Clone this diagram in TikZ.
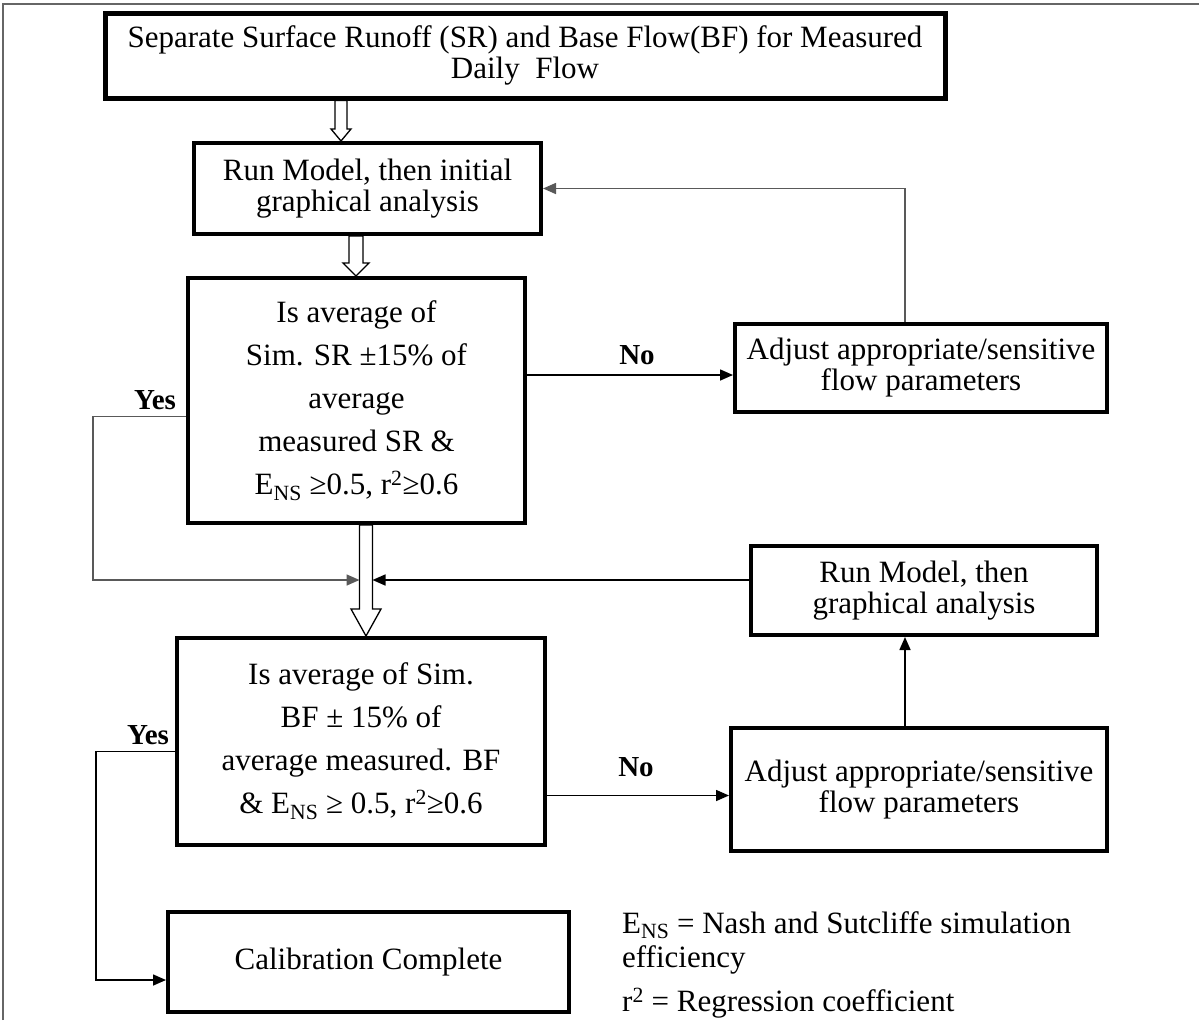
\documentclass[tikz,border=0pt]{standalone}
\usepackage{fontspec}
\setmainfont{Liberation Serif}
\usepackage{tikz}
\usetikzlibrary{positioning,calc,arrows.meta}

\newcommand{\hollowarrow}[6]{%
	\draw[hollow] let \p1=(#1 |- #2.south), \p2=(#1 |- #3.north) in
		(\x1-#4,\y1) -- (\x1+#4,\y1) -- (\x1+#4,\y2+#6) -- (\x1+#5,\y2+#6) -- (\x1,\y2) -- (\x1-#5,\y2+#6) -- (\x1-#4,\y2+#6) -- cycle;
}

\begin{document}
\begin{tikzpicture}[x=1pt,y=-1pt,
	box/.style={draw, line width=4pt, align=center, inner sep=0pt, font=\fontsize{31}{31}\selectfont},
	ask/.style={box, font=\fontsize{31}{43}\selectfont},
	link/.style={line width=1.6pt, -{Triangle[length=13pt,width=11pt]}},
	thinlink/.style={link, draw=black!65},
	hollow/.style={draw, fill=white, line width=1.3pt, line join=miter},
	answer/.style={font=\bfseries\fontsize{29}{29}\selectfont},
	note/.style={align=left, inner sep=0pt, font=\fontsize{31}{34}\selectfont},
	frame/.style={draw=black!60, line width=1.5pt}]
\useasboundingbox (0,0) rectangle (1199,1020);
\draw[frame] (3,1020) -- (3,4) -- (1199,4);

\node[box, line width=5pt, minimum width=840pt, minimum height=85pt] (sep) at (525,55.5) {Separate Surface Runoff (SR) and Base Flow(BF) for Measured\\Daily\ \ Flow};
\node[box, minimum width=347pt, minimum height=91pt] (box2) at (367.5,188.5) {Run Model, then initial\\graphical analysis};
\node[ask, minimum width=337pt, minimum height=245pt] (dec1) at (356.5,400.5) {Is average of\\Sim. SR ±15\% of\\average\\measured SR \&\\E\textsubscript{NS} ≥0.5, r\textsuperscript{2}≥0.6};
\node[box, minimum width=372pt, minimum height=88pt] (adj1) at (921,368) {Adjust appropriate/sensitive\\flow parameters};
\node[box, minimum width=346pt, minimum height=89pt] (run2) at (924,590.5) {Run Model, then\\graphical analysis};
\node[ask, minimum width=368pt, minimum height=207pt] (dec2) at (361,741.5) {Is average of Sim.\\BF ± 15\% of\\average measured. BF\\\& E\textsubscript{NS} ≥ 0.5, r\textsuperscript{2}≥0.6};
\node[box, minimum width=376pt, minimum height=123pt] (adj2) at (919,789.5) {Adjust appropriate/sensitive\\flow parameters};
\node[box, minimum width=401pt, minimum height=100pt] (calib) at (368.5,962) {Calibration Complete};

\node[note, anchor=north west] (legA) at (622,911) {E\textsubscript{NS} = Nash and Sutcliffe simulation\\efficiency};
\node[note, anchor=north west] (legB) at (622,988) {r\textsuperscript{2} = Regression coefficient};

\node[answer] (yesA) at (155,400) {Yes};
\node[answer] (yesB) at (148,735) {Yes};
\node[answer] (noA) at (637,355) {No};
\node[answer] (noB) at (636,767) {No};

\coordinate (a1) at (341,0);
\coordinate (a2) at (356,0);
\coordinate (a3) at (366,0);
\coordinate (mergeL) at (359.5,580);
\coordinate (mergeR) at (372.5,580);
\coordinate (bendA) at (93,580);
\coordinate (bendB) at (96,980);
\coordinate (no1) at ([yshift=-7pt]adj1.west);
\coordinate (no2) at ([yshift=-6pt]adj2.west);
\coordinate (up1) at ([xshift=-16pt]adj1.north);
\coordinate (up2) at ([xshift=-14pt]adj2.north);

\hollowarrow{a1}{sep}{box2}{6pt}{10pt}{12pt}
\hollowarrow{a2}{box2}{dec1}{7pt}{13pt}{13pt}
\hollowarrow{a3}{dec1}{dec2}{6.5pt}{15pt}{27pt}

\draw[link] (dec1.east |- no1) -- (no1);
\draw[thinlink] (up1) |- (box2.east);
\draw[thinlink] ([yshift=-16pt]dec1.west) -| (bendA) -- (mergeL);
\draw[link] (run2.west |- mergeR) -- (mergeR);
\draw[link] (up2) -- (up2 |- run2.south);
\draw[link] (dec2.east |- no2) -- (no2);
\draw[link] ([yshift=-10pt]dec2.west) -| (bendB) -- (calib.west |- bendB);
\end{tikzpicture}
\end{document}
